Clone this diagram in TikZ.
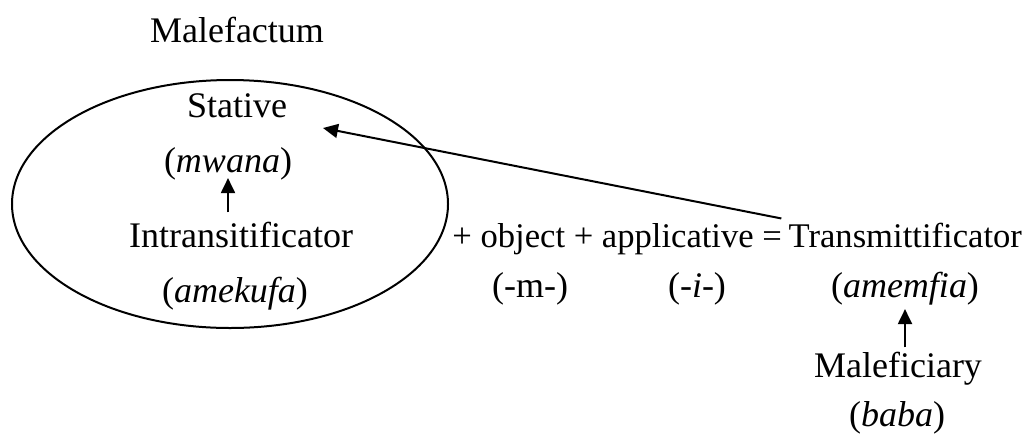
\documentclass[tikz,border=0pt]{standalone}
\usepackage{fontspec}
\setmainfont{Liberation Serif}
\usetikzlibrary{arrows.meta,shapes.geometric}

\begin{document}
\begin{tikzpicture}[
    x=0.5pt, y=-0.5pt,
    lbl/.style={anchor=base, inner sep=2pt, font=\fontsize{18}{21}\selectfont},
    rowlbl/.style={lbl, anchor=base west, inner sep=1.5pt, font=\fontsize{17.3}{21}\selectfont},
    halo/.style={draw, ellipse, line width=1pt, minimum width=218pt, minimum height=124pt, inner sep=0pt},
    arr/.style={-{Triangle[length=7.5pt, width=7pt]}, line width=1pt}
]
\useasboundingbox (0,0) rectangle (1033,435);
\node[halo] (circ) at (230,204) {};
\node[lbl] (male) at (237,42) {Malefactum};
\node[lbl] (stat) at (237,117) {Stative};
\node[lbl] (mwana) at (228,172) {(\textit{mwana})};
\node[lbl] (intr) at (241,247) {Intransitificator};
\node[lbl] (amek) at (235,302) {(\textit{amekufa})};
\node[rowlbl] (ops) at (449,247) {+ object + applicative =};
\node[rowlbl] (trans) at (ops.base east) {Transmittificator};
\node[lbl] (obj) at (530,297) {(-m-)};
\node[lbl] (appl) at (697,297) {(-\textit{i}-)};
\node[lbl] (amem) at (905,297) {(\textit{amemfia})};
\node[lbl] (malf) at (898,377) {Maleficiary};
\node[lbl] (baba) at (897,426) {(\textit{baba})};
\coordinate (stattip) at (323,128);
\draw[arr, shorten <=2.5pt, shorten >=-3pt] (mwana.south |- intr.north) -- (mwana.south);
\draw[arr] (malf.north -| amem.south) -- (amem.south);
\draw[arr, shorten <=2pt] (trans.north west) -- (stattip);
\end{tikzpicture}
\end{document}
